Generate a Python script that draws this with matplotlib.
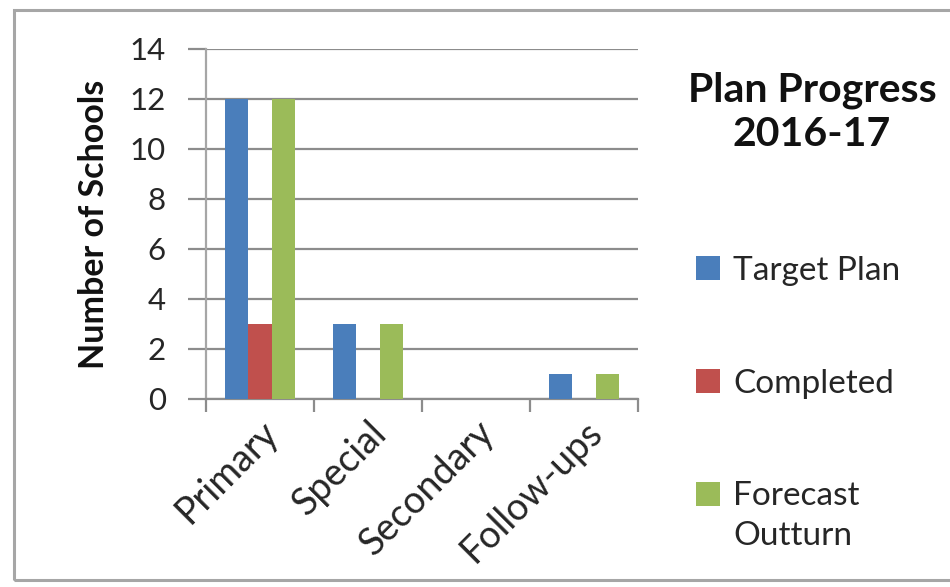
import matplotlib
matplotlib.use("Agg")
import matplotlib.pyplot as plt
from matplotlib.patches import Rectangle
import numpy as np

categories = ["Primary", "Special", "Secondary", "Follow-ups"]
target_plan = [12, 3, 0, 1]
completed = [3, 0, 0, 0]
forecast_outturn = [12, 3, 0, 1]
series_names = ["Target Plan", "Completed", "Forecast"]
y_ticks = [0, 2, 4, 6, 8, 10, 12, 14]

colors = ["#4a7ebb", "#c0504d", "#9bbb59"]
FONT = "Lato"
plt.rcParams["font.family"] = [FONT, "DejaVu Sans"]
TXT = "#262626"

W, H = 950, 587
fig = plt.figure(figsize=(W / 100, H / 100), dpi=100)
fig.patch.set_facecolor("white")

# chart border
fig.patches.append(Rectangle((14 / W, 1 - 580 / H), (W + 20) / W, (580 - 10) / H,
                             transform=fig.transFigure, fill=False,
                             edgecolor="#a6a6a6", linewidth=2.2, zorder=0))

ax = fig.add_axes([206 / W, 1 - 399 / H, (638 - 206) / W, (399 - 49) / H])
x = np.arange(len(categories))
bw = 0.215
handles = []
for i, (vals, c, name) in enumerate(zip([target_plan, completed, forecast_outturn], colors, series_names)):
    b = ax.bar(x + (i - 1) * bw, vals, width=bw, color=c, label=name, zorder=3)
    handles.append(b)

ax.set_xlim(-0.5, len(categories) - 0.5)
ax.set_ylim(0, 14)
ax.set_yticks(y_ticks)
ax.set_yticklabels([str(t) for t in y_ticks], fontsize=22.5, color=TXT)
ax.yaxis.grid(True, color="#8c8c8c", linewidth=1.6, zorder=1)
ax.set_axisbelow(True)
ax.tick_params(axis="y", length=13, width=1.6, color="#8c8c8c", pad=16)

ax.set_xticks(x)
ax.set_xticklabels(categories, rotation=45, ha="right", rotation_mode="anchor",
                   fontsize=27, color=TXT)
ax.tick_params(axis="x", which="major", length=0, pad=11)
ax.set_xticks(np.arange(-0.5, len(categories), 1), minor=True)
ax.tick_params(axis="x", which="minor", length=9, width=1.6, color="#8c8c8c")

for s in ["top", "right"]:
    ax.spines[s].set_visible(False)
ax.spines["left"].set_color("#a6a6a6")
ax.spines["left"].set_linewidth(1.6)
ax.spines["bottom"].set_color("#8c8c8c")
ax.spines["bottom"].set_linewidth(1.6)

ax.set_ylabel("Number of Schools", fontsize=24.5, fontweight="bold", labelpad=14,
              color="#111111")

fig.text(812 / W, 1 - 112 / H, "Plan Progress\n2016-17", ha="center", va="center",
         fontsize=29.5, fontweight="bold", linespacing=1.24, color="#111111")

leg = fig.legend(handles, series_names, loc="upper left",
                 bbox_to_anchor=(666 / W, 1 - 226 / H), frameon=False,
                 fontsize=24, handlelength=0.72, handleheight=0.72,
                 handletextpad=0.4, labelspacing=2.48, labelcolor=TXT)

fig.canvas.draw()
t = leg.get_texts()[2]
bb = t.get_window_extent()
fig.text(bb.x0 / W, (bb.y0 - 40) / H, "Outturn", ha="left", va="bottom",
         fontsize=24, color=TXT)

fig.savefig("out.png", dpi=100)
